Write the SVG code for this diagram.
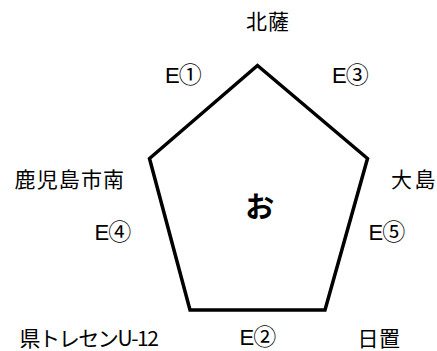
<svg xmlns="http://www.w3.org/2000/svg" width="437" height="351" viewBox="0 0 437 351">
  <style>
    .lbl { font-family: "Noto Sans CJK JP", "Noto Sans", sans-serif; font-size: 21px; fill: #000; }
    .edge { font-family: "Liberation Sans", "Noto Sans CJK JP", sans-serif; font-size: 22px; fill: #000; }
    .circ { font-family: "Noto Sans CJK JP", sans-serif; font-size: 23px; }
    .center { font-family: "Noto Sans CJK JP", sans-serif; font-size: 29px; font-weight: bold; fill: #000; }
    .pent { fill: #fff; stroke: #000; stroke-width: 3.5; stroke-linejoin: miter; }
  </style>
  <rect width="437" height="351" fill="#fff"/>
  <g id="connectors">
    <polygon class="pent" points="257.5,65.5 367.5,158.5 325,310 190,310 149.5,158.5"/>
  </g>
  <g id="node-center"><text class="center" x="259.7" y="218" text-anchor="middle">お</text></g>
  <g id="node-hokusatsu"><text class="lbl" x="246" y="28.5" textLength="43" lengthAdjust="spacing">北薩</text></g>
  <g id="node-kagoshimashiminami"><text class="lbl" x="14.5" y="186.5" textLength="109.5" lengthAdjust="spacing">鹿児島市南</text></g>
  <g id="node-oshima"><text class="lbl" x="391" y="186.5" textLength="44.5" lengthAdjust="spacing">大島</text></g>
  <g id="node-kentoresen"><text class="lbl" x="19.5" y="345.5" textLength="139.5" lengthAdjust="spacing">県トレセンU-12</text></g>
  <g id="node-hioki"><text class="lbl" x="357.5" y="345.5" textLength="42.5" lengthAdjust="spacing">日置</text></g>
  <g id="edge-labels">
    <text class="edge" x="165" y="82.5">E<tspan class="circ" dx="-1">①</tspan></text>
    <text class="edge" x="332" y="82.5">E<tspan class="circ" dx="-1">③</tspan></text>
    <text class="edge" x="94.5" y="239.5">E<tspan class="circ" dx="-1">④</tspan></text>
    <text class="edge" x="368.5" y="240">E<tspan class="circ" dx="-1">⑤</tspan></text>
    <text class="edge" x="239.5" y="344.5">E<tspan class="circ" dx="-1">②</tspan></text>
  </g>
</svg>
